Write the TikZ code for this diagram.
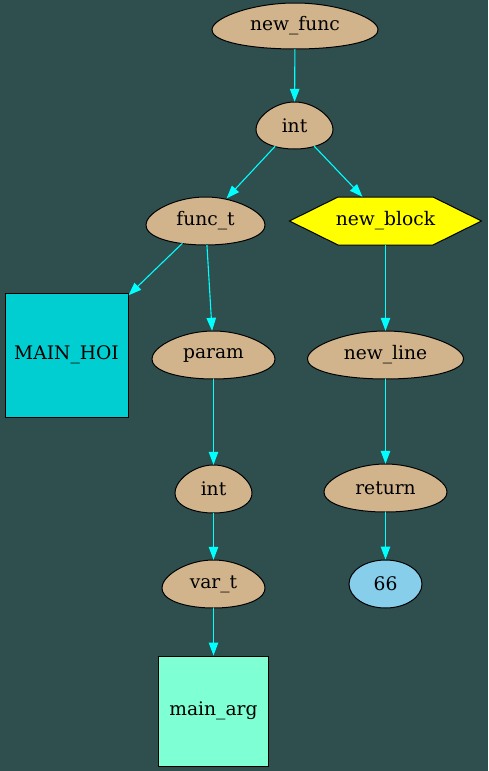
\documentclass[tikz,border=0pt]{standalone}
\usepackage{fontspec}
\setmainfont{DejaVu Serif}
\usetikzlibrary{shapes.geometric,arrows.meta}
\definecolor{bg}{HTML}{2F4F4F}
\definecolor{tanc}{HTML}{D2B48C}
\definecolor{edgecyan}{HTML}{00FFFF}
\definecolor{dturq}{HTML}{00CED1}
\definecolor{aquam}{HTML}{7FFFD4}
\definecolor{skyb}{HTML}{87CEEB}
\definecolor{yel}{HTML}{FFFF00}
\newcommand{\EggNode}[5]{%
  \begin{scope}[shift={#2}]
    \filldraw[eggsty] plot[smooth cycle, samples=40, domain=0:351]
      ({#3/2.03*cos(\x)*(1+0.18*sin(\x))},{#4/2*sin(\x)});
  \end{scope}
  \node[eggshape, minimum width=#3pt, minimum height=#4pt] (#1) at #2 {#5};}
\begin{document}
\begin{tikzpicture}[x=1pt,y=-1pt,
  font=\fontsize{18.67}{22}\selectfont,
  eggsty/.style={fill=tanc, draw=black, line width=1pt},
  eggshape/.style={ellipse, draw=none, inner sep=0pt},
  boxsty/.style={rectangle, draw=black, line width=1pt, inner sep=0pt},
  edge/.style={draw=edgecyan, line width=1.1pt, -{Triangle[length=13pt,width=9.5pt]}}]
\useasboundingbox[fill=bg] (0,0) rectangle (488,771);

\EggNode{nf}{(295,26)}{166}{46}{new\_func}
\EggNode{ia}{(294.5,125.5)}{77}{47}{int}
\EggNode{ft}{(205.5,221)}{119}{48}{func\_t}
\EggNode{pa}{(213.5,355)}{123}{48}{param}
\EggNode{ib}{(213.5,489)}{77}{48}{int}
\EggNode{vt}{(213.5,584)}{103}{48}{var\_t}
\EggNode{nl}{(385.5,355)}{156}{48}{new\_line}
\EggNode{re}{(385.5,488)}{123}{48}{return}

\node[ellipse, draw=black, fill=skyb, line width=1pt, inner sep=0pt,
      minimum width=73pt, minimum height=48pt] (sx) at (385.5,584) {66};
\node[boxsty, fill=dturq, minimum width=123pt, minimum height=124pt] (mh) at (66.5,355) {MAIN\_HOI};
\node[boxsty, fill=aquam, minimum width=110pt, minimum height=110pt] (ma) at (213.5,711) {main\_arg};

\begin{scope}[shift={(385.5,221)}]
  \filldraw[fill=yel, draw=black, line width=1pt]
    (-96,0) -- (-47.5,-24) -- (47.5,-24) -- (96,0) -- (47.5,24) -- (-47.5,24) -- cycle;
\end{scope}
\node[rectangle, draw=none, inner sep=0pt, minimum width=192pt, minimum height=48pt] (nb) at (385.5,221) {new\_block};

\draw[edge] (nf) -- (ia);
\draw[edge] (ia) -- (ft);
\draw[edge] (ia) -- (nb);
\draw[edge] (ft) -- (mh);
\draw[edge] (ft) -- (pa);
\draw[edge] (pa) -- (ib);
\draw[edge] (ib) -- (vt);
\draw[edge] (vt) -- (ma);
\draw[edge] (nb) -- (nl);
\draw[edge] (nl) -- (re);
\draw[edge] (re) -- (sx);
\end{tikzpicture}
\end{document}
